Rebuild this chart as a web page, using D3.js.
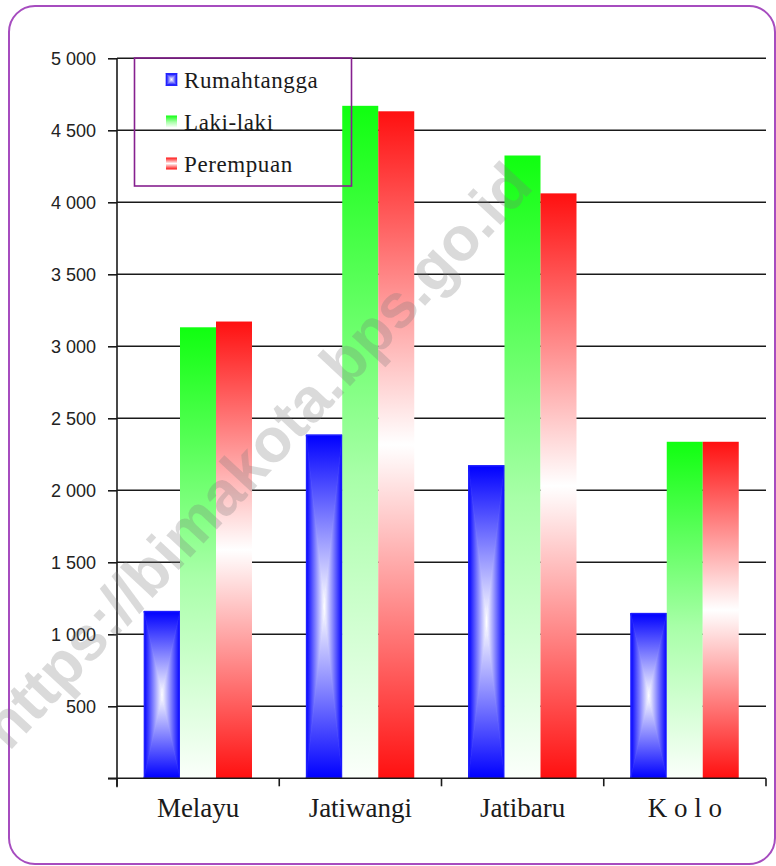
<!DOCTYPE html>
<html>
<head>
<meta charset="utf-8">
<script src="https://cdn.jsdelivr.net/npm/d3@7"></script>
<style>
  html, body { margin: 0; padding: 0; background: #fff; }
  svg { display: block; }
</style>
</head>
<body>
<svg id="chart" width="776" height="866"></svg>
<script>
// ---- data ----
const categories = ["Melayu", "Jatiwangi", "Jatibaru", "K o l o"];
const seriesNames = ["Rumahtangga", "Laki-laki", "Perempuan"];
const rumahtangga = [1160, 2385, 2172, 1146];
const lakiLaki    = [3132, 4670, 4325, 2337];
const perempuan   = [3172, 4632, 4062, 2337];
const yTicks = [0, 500, 1000, 1500, 2000, 2500, 3000, 3500, 4000, 4500, 5000];
const yTickLabels = ["", "500", "1 000", "1 500", "2 000", "2 500", "3 000", "3 500", "4 000", "4 500", "5 000"];
const watermark = "https://bimakota.bps.go.id";

const seriesValues = [rumahtangga, lakiLaki, perempuan];

const svg = d3.select("#chart");
const defs = svg.append("defs");

// gradients
function lin(id, x1, y1, x2, y2, stops) {
  const g = defs.append("linearGradient").attr("id", id)
    .attr("x1", x1).attr("y1", y1).attr("x2", x2).attr("y2", y2);
  stops.forEach(s => g.append("stop").attr("offset", s[0]).attr("stop-color", s[1]));
}
lin("gBlueTop", 0, 0, 0, 1, [[0, "#0000ff"], [1, "#ffffff"]]);
lin("gBlueBot", 0, 1, 0, 0, [[0, "#0000ff"], [1, "#ffffff"]]);
lin("gBlueLeft", 0, 0, 1, 0, [[0, "#0000ff"], [1, "#ffffff"]]);
lin("gBlueRight", 1, 0, 0, 0, [[0, "#0000ff"], [1, "#ffffff"]]);
lin("gGreen", 0, 0, 0, 1, [[0, "#10ff10"], [0.55, "#a8ffa8"], [1, "#fbfffb"]]);
lin("gRed", 0, 0, 0, 1, [[0, "#ff1010"], [0.5, "#ffffff"], [1, "#ff1010"]]);

// layout
const plotLeft = 117, plotRight = 766, plotTop = 58.3, plotBottom = 778.3;
const y = d3.scaleLinear().domain([0, 5000]).range([plotBottom, plotTop]);
const x = d3.scaleBand().domain(categories).range([plotLeft, plotRight]).paddingInner(0).paddingOuter(0);
const xs = d3.scaleBand().domain(seriesNames).range([27, x.bandwidth() - 27.25]).padding(0);

// frame
svg.append("rect")
  .attr("x", 9).attr("y", 6).attr("width", 766).attr("height", 858)
  .attr("rx", 26).attr("ry", 26)
  .attr("fill", "#fff").attr("stroke", "#a64cbf").attr("stroke-width", 2);

// gridlines
svg.append("g").selectAll("line")
  .data(yTicks.filter(d => d > 0))
  .join("line")
  .attr("x1", plotLeft).attr("x2", plotRight)
  .attr("y1", d => y(d)).attr("y2", d => y(d))
  .attr("stroke", "#1a1a1a").attr("stroke-width", 1.6);

// blue rectangular ("from centre") gradient made of 4 triangles
function blueBox(g, x0, y0, w, h) {
  const x1 = x0 + w, y1 = y0 + h, cx = x0 + w / 2, cy = y0 + h / 2;
  g.append("rect").attr("x", x0).attr("y", y0).attr("width", w).attr("height", h).attr("fill", "#9a9aff");
  const tris = [
    [[x0, y0], [x1, y0], [cx, cy], "gBlueTop"],
    [[x0, y1], [x1, y1], [cx, cy], "gBlueBot"],
    [[x0, y0], [x0, y1], [cx, cy], "gBlueLeft"],
    [[x1, y0], [x1, y1], [cx, cy], "gBlueRight"]
  ];
  tris.forEach(t => {
    g.append("polygon")
      .attr("points", t.slice(0, 3).map(p => p.join(",")).join(" "))
      .attr("fill", `url(#${t[3]})`)
      .attr("stroke", `url(#${t[3]})`).attr("stroke-width", 0.6);
  });
  g.append("rect").attr("x", x0 + 0.5).attr("y", y0 + 0.5).attr("width", w - 1).attr("height", h - 1)
    .attr("fill", "none").attr("stroke", "#2020ff").attr("stroke-width", 1);
}

// bars
const barsG = svg.append("g");
categories.forEach((cat, ci) => {
  seriesNames.forEach((s, si) => {
    const v = seriesValues[si][ci];
    const bx = x(cat) + xs(s), bw = xs.bandwidth();
    const by = y(v), bh = y(0) - y(v);
    if (si === 0) {
      blueBox(barsG.append("g"), bx, by, bw, bh);
    } else {
      barsG.append("rect").attr("x", bx).attr("y", by).attr("width", bw).attr("height", bh)
        .attr("fill", si === 1 ? "url(#gGreen)" : "url(#gRed)");
    }
  });
});

// y axis
const yAxis = d3.axisLeft(y).tickValues(yTicks).tickSize(9).tickPadding(12)
  .tickFormat((d, i) => yTickLabels[i]);
const yg = svg.append("g").attr("transform", `translate(${plotLeft},0)`).call(yAxis);
yg.select(".domain").remove();
yg.selectAll(".tick line").attr("stroke", "#1a1a1a").attr("stroke-width", 1.6);
yg.selectAll(".tick text")
  .attr("font-family", "'Liberation Sans', Arial, sans-serif")
  .attr("font-size", 18).attr("fill", "#222");
svg.append("line").attr("x1", plotLeft).attr("x2", plotLeft).attr("y1", plotTop).attr("y2", plotBottom + 9)
  .attr("stroke", "#1a1a1a").attr("stroke-width", 1.6);

// x axis
svg.append("line").attr("x1", plotLeft - 9).attr("x2", plotRight).attr("y1", plotBottom).attr("y2", plotBottom)
  .attr("stroke", "#1a1a1a").attr("stroke-width", 1.6);
const edges = categories.map(c => x(c)).concat([x.range()[1]]);
svg.append("g").selectAll("line").data(edges).join("line")
  .attr("x1", d => d).attr("x2", d => d).attr("y1", plotBottom).attr("y2", plotBottom + 8)
  .attr("stroke", "#1a1a1a").attr("stroke-width", 1.6);
svg.append("g").selectAll("text").data(categories).join("text")
  .attr("x", d => x(d) + x.bandwidth() / 2).attr("y", 817)
  .attr("text-anchor", "middle")
  .attr("font-family", "'Liberation Serif', 'Times New Roman', serif")
  .attr("font-size", 27).attr("fill", "#1a1a1a")
  .text(d => d);

// legend
const lg = svg.append("g");
lg.append("rect").attr("x", 134.5).attr("y", 58).attr("width", 217).attr("height", 128)
  .attr("fill", "none").attr("stroke", "#86208f").attr("stroke-width", 1.6);
seriesNames.forEach((s, i) => {
  const ly = 87.5 + i * 42;
  const mx = 166, my = ly - 14, mw = 11, mh = 12;
  if (i === 0) blueBox(lg.append("g"), mx, my, mw, mh);
  else lg.append("rect").attr("x", mx).attr("y", my).attr("width", mw).attr("height", mh)
    .attr("fill", i === 1 ? "url(#gGreen)" : "url(#gRed)");
  lg.append("text").attr("x", 184).attr("y", ly)
    .attr("font-family", "'Liberation Serif', 'Times New Roman', serif")
    .attr("font-size", 23).attr("fill", "#1a1a1a").attr("letter-spacing", 0.6)
    .text(s);
});

// watermark
svg.append("text")
  .attr("transform", "translate(272,470) rotate(-47)")
  .attr("text-anchor", "middle")
  .attr("font-family", "'Liberation Sans', Arial, sans-serif")
  .attr("font-weight", "bold").attr("font-size", 62)
  .attr("fill", "#7a7a7a").attr("fill-opacity", 0.28)
  .text(watermark);
</script>
</body>
</html>
